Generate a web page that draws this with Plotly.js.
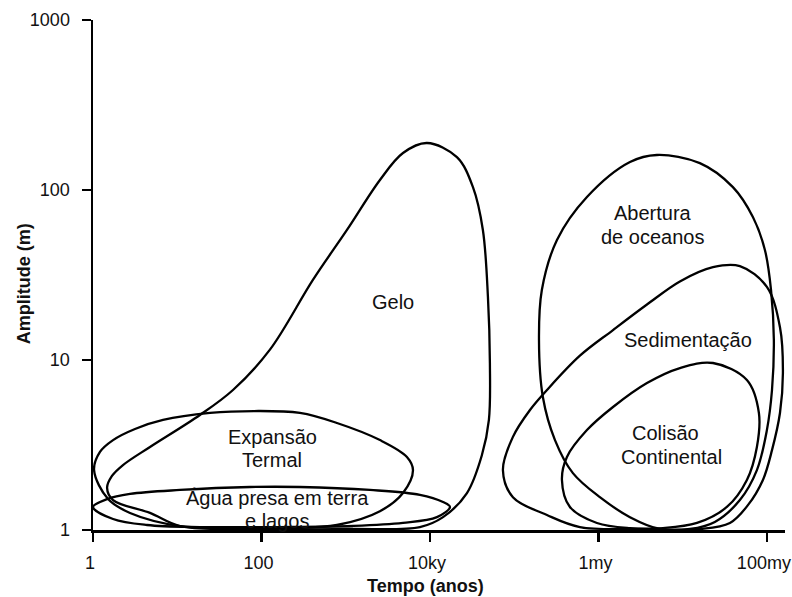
<!DOCTYPE html>
<html>
<head>
<meta charset="utf-8">
<script src="https://cdn.plot.ly/plotly-3.0.1.min.js"></script>
<style>html,body{margin:0;padding:0;background:#fff;}#chart{width:792px;height:597px;}</style>
</head>
<body>
<div id="chart"></div>
<script>
// ---- Data (time in years, amplitude in metres) ----
const xTickVals = [1, 100, 1e4, 1e6, 1e8];
const xTickText = ['1', '100', '10ky', '1my', '100my'];
const yTickVals = [1, 10, 100, 1000];
const yTickText = ['1', '10', '100', '1000'];

// Gelo (ice)
const geloX = [1.73, 1.47, 1.68, 2.27, 4.75, 18.6, 45.9, 126, 408, 1035, 2550, 4785, 9210, 20900, 32400, 42500, 48800, 51500, 50100, 41400, 27500, 14300, 7600, 1122, 73, 10.8, 4.75, 1.73];
const geloY = [1.50, 1.77, 2.08, 2.41, 3.08, 4.75, 6.66, 11.5, 29.6, 58.2, 114.5, 165, 189, 156, 104, 58.2, 23.5, 9.6, 4.44, 2.76, 1.65, 1.19, 1.04, 1.014, 1.014, 1.055, 1.26, 1.50];

// Expansão Termal (thermal expansion)
const expX = [1.03, 1.21, 1.73, 3.15, 6.78, 24.5, 81.5, 286, 787, 2550, 5330, 6290, 4785, 2550, 787, 218, 42.3, 10.8, 2.75, 1.51, 1.03];
const expY = [2.25, 2.88, 3.38, 3.93, 4.44, 4.88, 5.01, 4.88, 4.26, 3.38, 2.69, 2.25, 1.65, 1.29, 1.07, 1.027, 1.027, 1.055, 1.26, 1.52, 2.25];

// Água presa em terra e lagos (water stored on land and in lakes)
const aguaX = [1.0, 1.47, 2.75, 10.8, 73, 286, 1940, 7600, 14300, 17300, 12100, 4785, 1220, 166, 18.6, 4.38, 1.73, 1.0];
const aguaY = [1.366, 1.52, 1.63, 1.72, 1.79, 1.79, 1.72, 1.61, 1.46, 1.366, 1.19, 1.10, 1.056, 1.041, 1.041, 1.07, 1.16, 1.366];

// Abertura de oceanos (ocean opening)
const abertX = [4.94e6, 1.60e7, 3.95e7, 6.82e7, 9.47e7, 1.12e8, 1.21e8, 1.15e8, 1.0e8, 7.61e7, 4.78e7, 2.41e7, 1.22e7, 5.37e6, 2.37e6, 1.04e6, 4.98e5, 3.05e5, 2.19e5, 1.97e5, 2.13e5, 3.22e5, 7.31e5, 2.37e6, 4.94e6];
const abertY = [160.6, 144, 104, 69.4, 44.4, 25.8, 13.1, 6.66, 3.87, 2.25, 1.50, 1.115, 1.014, 1.014, 1.19, 1.56, 2.16, 3.38, 6.06, 13.1, 25.8, 50.8, 90.9, 146, 160.6];

// Sedimentação (sedimentation)
const sedX = [7.35e4, 9.66e4, 1.54e5, 2.45e5, 6.03e5, 1.49e6, 3.77e6, 9.27e6, 2.29e7, 4.78e7, 1.0e8, 1.43e8, 1.55e8, 1.43e8, 1.15e8, 8.97e7, 5.95e7, 3.64e7, 1.60e7, 3.11e6, 6.03e5, 2.45e5, 9.66e4, 7.35e4];
const sedY = [2.25, 3.53, 5.08, 6.66, 10.6, 15.0, 21.2, 29.0, 35.2, 35.7, 26.9, 15.6, 8.39, 4.88, 2.95, 1.97, 1.40, 1.10, 1.014, 1.014, 1.041, 1.225, 1.56, 2.25];

// Colisão Continental (continental collision)
const colX = [2.29e7, 5.79e7, 8.04e7, 7.61e7, 5.79e7, 3.35e7, 1.48e7, 5.83e6, 2.37e6, 9.6e5, 4.59e5, 3.69e5, 4.23e5, 7.31e5, 1.49e6, 3.77e6, 9.27e6, 2.29e7];
const colY = [9.6, 7.63, 4.88, 3.08, 1.97, 1.366, 1.10, 1.027, 1.027, 1.10, 1.366, 1.97, 2.69, 3.87, 5.29, 7.32, 8.97, 9.6];

const regionNames = ['Gelo', 'Expansão Termal', 'Água presa em terra e lagos', 'Abertura de oceanos', 'Sedimentação', 'Colisão Continental'];
const regionX = [geloX, expX, aguaX, abertX, sedX, colX];
const regionY = [geloY, expY, aguaY, abertY, sedY, colY];

// ---- Traces ----
const traces = regionNames.map((name, i) => ({
  type: 'scatter',
  mode: 'lines',
  name: name,
  x: regionX[i],
  y: regionY[i],
  line: {color: '#000', width: 2.3, shape: 'spline', smoothing: 1, simplify: false},
  hoverinfo: 'name',
  showlegend: false
}));

const FONT = 'Arial, "Liberation Sans", Helvetica, sans-serif';
const labelFont = {family: FONT, size: 20, color: '#111'};
function lab(text, x, y) {
  return {text: text, xref: 'paper', yref: 'paper', x: x, y: y,
          xanchor: 'center', yanchor: 'middle', showarrow: false, font: labelFont};
}
const titleFont = {family: FONT, size: 18, color: '#111'};

const layout = {
  width: 792, height: 597,
  margin: {l: 93, r: 7, t: 20, b: 67},
  paper_bgcolor: '#fff', plot_bgcolor: '#fff',
  font: {family: FONT, color: '#111'},
  showlegend: false,
  xaxis: {
    type: 'log', range: [0, 8.215],
    tickmode: 'array', tickvals: xTickVals, ticktext: xTickText,
    ticks: 'outside', ticklen: 9, tickwidth: 2.5, tickcolor: '#000',
    showline: true, linecolor: '#000', linewidth: 2.5,
    showgrid: false, zeroline: false,
    tickfont: {family: FONT, size: 18, color: '#111'},
    ticklabelstandoff: 6,
    ticklabelshift: -3,
    ticklabeloverflow: 'allow'
  },
  yaxis: {
    type: 'log', range: [0, 3],
    tickmode: 'array', tickvals: yTickVals, ticktext: yTickText,
    ticks: 'outside', ticklen: 9, tickwidth: 2.5, tickcolor: '#000',
    showline: true, linecolor: '#000', linewidth: 2.5,
    showgrid: false, zeroline: false,
    tickfont: {family: FONT, size: 18, color: '#111'},
    ticklabelstandoff: 8,
    ticklabeloverflow: 'allow'
  },
  annotations: [
    {text: '<b>Tempo (anos)</b>', xref: 'paper', yref: 'paper', x: 0.480, y: -0.1098,
     xanchor: 'center', yanchor: 'middle', showarrow: false, font: titleFont},
    {text: '<b>Amplitude (m)</b>', xref: 'paper', yref: 'paper', x: -0.0997, y: 0.482,
     xanchor: 'center', yanchor: 'middle', textangle: -90, showarrow: false, font: titleFont},
    lab('Gelo', 0.4335, 0.447),
    lab('Expansão', 0.2587, 0.1824),
    lab('Termal', 0.2587, 0.1373),
    lab('Água presa em terra', 0.2659, 0.0627),
    lab('e lagos', 0.2659, 0.0176),
    lab('Abertura', 0.8092, 0.6216),
    lab('de oceanos', 0.8092, 0.5745),
    lab('Sedimentação', 0.8598, 0.3725),
    lab('Colisão', 0.8266, 0.1902),
    lab('Continental', 0.8367, 0.1431)
  ]
};

Plotly.newPlot('chart', traces, layout, {staticPlot: true, displayModeBar: false});
</script>
</body>
</html>
